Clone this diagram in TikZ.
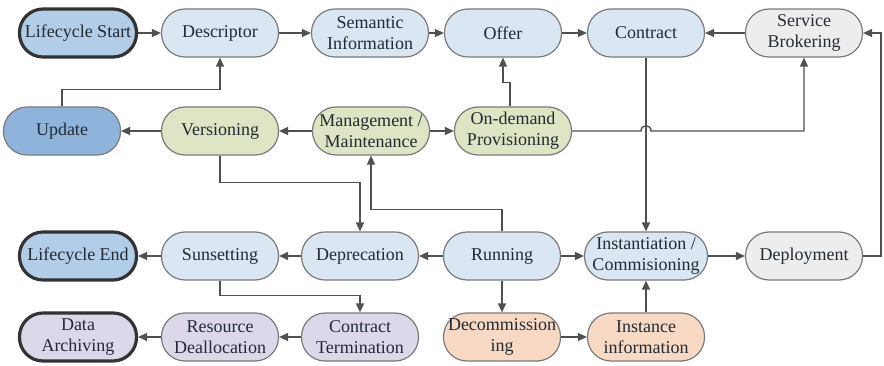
\documentclass[tikz,border=0pt]{standalone}
\usepackage{fontspec}
\setmainfont{Liberation Serif}
\usetikzlibrary{arrows.meta}
\definecolor{cblue}{HTML}{DAE6F2}
\definecolor{cdblue}{HTML}{B2CDE8}
\definecolor{cupd}{HTML}{8FB4DC}
\definecolor{cgreen}{HTML}{DDE5C4}
\definecolor{cgray}{HTML}{EDEDED}
\definecolor{clav}{HTML}{DDD7EA}
\definecolor{cpeach}{HTML}{F8D9C3}
\definecolor{cborder}{HTML}{7A7A7A}
\definecolor{cthick}{HTML}{333333}
\definecolor{cline}{HTML}{505050}
\definecolor{ctext}{HTML}{222A33}
\tikzset{
  box/.style={draw=cborder, line width=1.2pt, rounded corners=23.5pt,
    minimum width=117pt, minimum height=48pt, inner sep=1pt,
    align=center, text=ctext, font=\rmfamily\fontsize{18}{21}\selectfont},
  thickbox/.style={box, draw=cthick, line width=3.2pt},
  arr/.style={draw=cline, line width=1.4pt, -{Triangle[length=9pt,width=8pt]}},
}
\begin{document}
\begin{tikzpicture}[x=1pt,y=-1pt]
\useasboundingbox (0,0) rectangle (884,366);
% row 1
\node[thickbox, fill=cdblue] (ls) at (78,33) {Lifecycle Start};
\node[box, fill=cblue] (desc) at (220,33) {Descriptor};
\node[box, fill=cblue] (sem) at (370,33) {Semantic\\Information};
\node[box, fill=cblue] (offer) at (503,33) {Offer};
\node[box, fill=cblue] (contract) at (646,33) {Contract};
\node[box, fill=cgray] (sb) at (804,33) {Service\\Brokering};
% row 2
\node[box, fill=cupd] (upd) at (62,131) {Update};
\node[box, fill=cgreen] (ver) at (220,131) {Versioning};
\node[box, fill=cgreen] (mgmt) at (371,131) {Management /\\Maintenance};
\node[box, fill=cgreen] (ond) at (513,131) {On-demand\\Provisioning};
% row 3
\node[thickbox, fill=cdblue] (le) at (78,256) {Lifecycle End};
\node[box, fill=cblue] (sun) at (220,256) {Sunsetting};
\node[box, fill=cblue] (dep) at (360,256) {Deprecation};
\node[box, fill=cblue] (run) at (502,256) {Running};
\node[box, fill=cblue, minimum width=123pt] (inst) at (646,256) {Instantiation /\\Commisioning};
\node[box, fill=cgray] (deploy) at (804,256) {Deployment};
% row 4
\node[thickbox, fill=clav] (da) at (78,337) {Data\\Archiving};
\node[box, fill=clav] (rd) at (220,337) {Resource\\Deallocation};
\node[box, fill=clav] (ct) at (360,337) {Contract\\Termination};
\node[box, fill=cpeach] (dec) at (502,337) {Decommission\\ing};
\node[box, fill=cpeach] (ii) at (646,337) {Instance\\information};
% connectors row 1
\draw[arr] (ls) -- (desc);
\draw[arr] (desc) -- (sem);
\draw[arr] (sem) -- (offer);
\draw[arr] (offer) -- (contract);
\draw[arr] (sb) -- (contract);
\draw[arr] (deploy.east) -- ++(18,0) |- (sb.east);
% row 2
\draw[arr] (upd.north) -- ++(0,-17) -| (desc.south);
\draw[arr] (ver) -- (upd);
\draw[arr] (mgmt) -- (ver);
\draw[arr] (mgmt) -- (ond);
\draw[arr] ([xshift=-3pt]ond.north) -- ++(0,-24) -| (offer.south);
\coordinate (hop) at (contract.south |- ond.east);
\draw[arr] (ond.east) -- ([xshift=-5pt]hop)
  .. controls ([xshift=-5pt,yshift=7pt]hop) and ([xshift=5pt,yshift=7pt]hop) .. ([xshift=5pt]hop)
  -| (sb.south);
\draw[arr] (contract.south) -- (inst.north);
\draw[arr] (ver.south) -- ++(0,27) -| (dep.north);
\draw[arr] (run.north) -- ++(0,-22) -| (mgmt.south);
% row 3
\draw[arr] (run) -- (dep);
\draw[arr] (dep) -- (sun);
\draw[arr] (sun) -- (le);
\draw[arr] (run) -- (inst);
\draw[arr] (inst) -- (deploy);
% row 4
\draw[arr] (sun.south) -- ++(0,15) -| (ct.north);
\draw[arr] (ct) -- (rd);
\draw[arr] (rd) -- (da);
\draw[arr] (run) -- (dec);
\draw[arr] (dec) -- (ii);
\draw[arr] (ii) -- (inst);
\end{tikzpicture}
\end{document}
